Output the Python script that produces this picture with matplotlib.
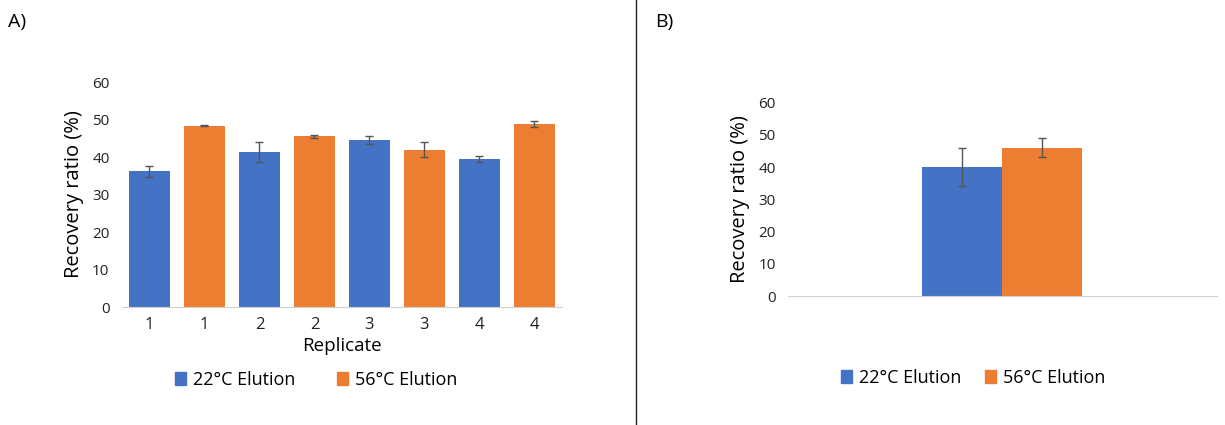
import matplotlib
matplotlib.use("Agg")
import matplotlib.pyplot as plt
import numpy as np
from matplotlib.patches import Patch
from matplotlib.lines import Line2D

plt.rcParams['font.family'] = ['Open Sans', 'DejaVu Sans']

blue = '#4472c4'
orange = '#ed7d31'

# panel A: replicates, alternating 22C / 56C
rep_labels = ['1', '1', '2', '2', '3', '3', '4', '4']
rep_values = [36.2, 48.4, 41.3, 45.5, 44.5, 42.0, 39.5, 48.8]
rep_errors = [1.4, 0.2, 2.6, 0.4, 1.0, 2.0, 0.8, 0.8]
rep_groups = ['22', '56', '22', '56', '22', '56', '22', '56']

# panel B: means
mean_values = [40.0, 46.0]
mean_errors = [5.9, 3.0]

series_names = ['22\u00b0C Elution', '56\u00b0C Elution']

fig = plt.figure(figsize=(12.25, 4.25), dpi=100)

def style_axis(ax):
    for s in ['top', 'right', 'left']:
        ax.spines[s].set_visible(False)
    ax.spines['bottom'].set_color('#d0d0d0')
    ax.tick_params(length=0, labelsize=11, colors='#222222')
    ax.tick_params(axis='y', pad=9)
    ax.set_ylim(0, 60)
    ax.set_yticks(range(0, 61, 10))

# A
axA = fig.add_axes([0.0996, 0.2776, 0.359, 0.5294])
x = np.arange(len(rep_values))
cols = [blue if g == '22' else orange for g in rep_groups]
axA.bar(x, rep_values, width=0.75, color=cols, yerr=rep_errors,
        error_kw=dict(ecolor='#555555', elinewidth=1, capsize=3, capthick=1))
axA.set_xlim(-0.5, len(rep_values) - 0.5)
axA.set_xticks(x)
axA.set_xticklabels(rep_labels)
style_axis(axA)
axA.tick_params(axis='x', labelsize=12, pad=7)
axA.set_ylabel('Recovery ratio (%)', fontsize=14.5, labelpad=6)
axA.set_xlabel('Replicate', fontsize=13.5, labelpad=3)
handles = [Patch(color=blue), Patch(color=orange)]
fig.legend(handles, series_names, loc='center', bbox_to_anchor=(316 / 1225, 1 - 380 / 425),
           ncol=2, frameon=False, fontsize=13, handlelength=0.6, handleheight=0.7,
           handletextpad=0.4, columnspacing=2.3)

# B
axB = fig.add_axes([0.6433, 0.3035, 0.350, 0.4549])
bw = 0.1865
axB.bar([-bw / 2, bw / 2], mean_values, width=bw, color=[blue, orange], yerr=mean_errors,
        error_kw=dict(ecolor='#555555', elinewidth=1, capsize=3, capthick=1))
axB.set_xlim(-0.5, 0.5)
axB.set_xticks([])
style_axis(axB)
axB.set_ylabel('Recovery ratio (%)', fontsize=14.5, labelpad=6)
fig.legend(handles, series_names, loc='center', bbox_to_anchor=(973 / 1225, 1 - 378 / 425),
           ncol=2, frameon=False, fontsize=13, handlelength=0.6, handleheight=0.7,
           handletextpad=0.4, columnspacing=1.3)

# panel letters and divider
fig.text(8 / 1225, 1 - 22 / 425, 'A)', fontsize=14, va='center')
fig.text(655 / 1225, 1 - 22 / 425, 'B)', fontsize=14, va='center')
fig.add_artist(Line2D([636 / 1225, 636 / 1225], [0, 1], color='#222222', lw=1))

fig.savefig('out.png', dpi=100)
